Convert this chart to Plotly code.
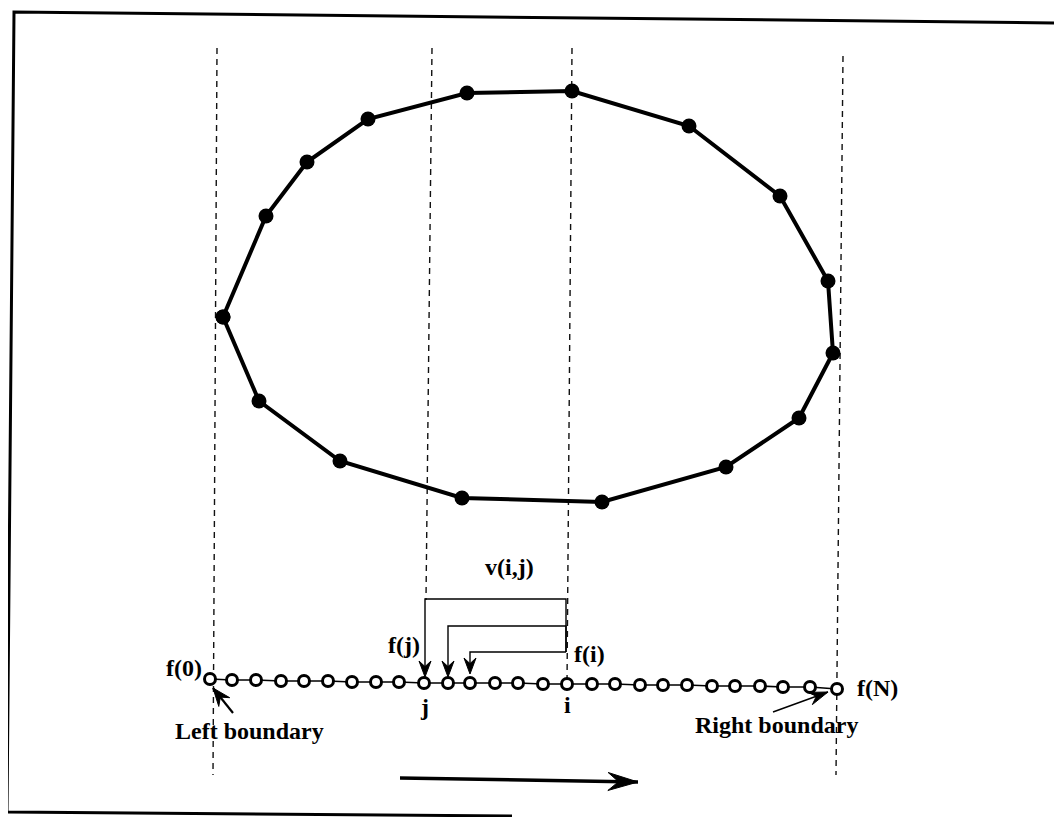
import math
import plotly.graph_objects as go

# ---------------- data (pixel-space diagram coordinates) ----------------
# closed contour vertices
contour_x = [223, 266, 307, 368, 467, 572, 689, 780, 828, 833, 799, 726, 602, 462, 340, 259]
contour_y = [317, 216, 162, 119, 93, 91, 126, 196, 281, 353, 418, 467, 502, 498, 461, 401]

# sample points f(0)..f(N) along the baseline
sample_x = [210, 232, 256, 281, 304, 328, 352, 376, 399, 424, 448, 470, 495, 518,
            543, 567, 592, 615, 640, 663, 687, 712, 735, 760, 783, 810, 837]
sample_y = [679, 680, 680, 681, 681, 681, 682, 682, 682, 683, 683, 683, 683, 683,
            684, 684, 684, 684, 685, 685, 685, 686, 686, 686, 687, 687, 689]

# dashed vertical guides (top -> bottom)
guide_x0 = [217, 432, 572, 843]
guide_y0 = [48, 48, 48, 56]
guide_x1 = [213, 426, 567, 836]
guide_y1 = [775, 600, 684, 775]

# v(i,j) brackets: left x, top y, arrow tip y ; common right x
bracket_left = [425, 448, 470]
bracket_top = [599, 626, 652]
bracket_tip = [677, 677, 674]
bracket_right = 566

# labels
label_text = ["v(i,j)", "f(j)", "f(i)", "f(0)", "f(N)", "j", "i", "Left boundary", "Right boundary"]
label_x = [509, 422, 572, 204, 855, 424, 567, 173, 693]
label_y = [567, 645, 654, 668, 688, 707, 705, 731, 725]
label_anchor = ["center", "right", "left", "right", "left", "center", "center", "left", "left"]

# free arrows: tail -> tip, line width, head length, head width
arrow_tail = [(233, 713), (773, 712), (400, 778)]
arrow_tip = [(213, 688), (828, 692), (638, 782)]
arrow_width = [2.2, 1.6, 3.5]
arrow_head = [(18, 14), (19, 13), (30, 18)]

# frame of the scanned figure
frame_x = [1062, 14, 7, 512]
frame_y = [23, 12, 812, 816]
frame_right_x = [1061, 1061]
frame_right_y = [742, 817]

# ---------------- figure ----------------
fig = go.Figure()


def line(xs, ys, width=1.5, color="black", dash=None):
    fig.add_trace(go.Scatter(x=xs, y=ys, mode="lines",
                             line=dict(color=color, width=width, dash=dash),
                             hoverinfo="skip", showlegend=False))


def head(tip, tail, length, width, notch=0.35):
    dx, dy = tip[0] - tail[0], tip[1] - tail[1]
    d = math.hypot(dx, dy)
    ux, uy = dx / d, dy / d
    nx, ny = -uy, ux
    bx, by = tip[0] - ux * length, tip[1] - uy * length
    mx, my = tip[0] - ux * length * (1 - notch), tip[1] - uy * length * (1 - notch)
    xs = [tip[0], bx + nx * width / 2, mx, bx - nx * width / 2, tip[0]]
    ys = [tip[1], by + ny * width / 2, my, by - ny * width / 2, tip[1]]
    fig.add_trace(go.Scatter(x=xs, y=ys, mode="lines", fill="toself",
                             fillcolor="black", line=dict(color="black", width=1),
                             hoverinfo="skip", showlegend=False))


# frame
line(frame_x, frame_y, width=3)
line(frame_right_x, frame_right_y, width=1.5, color="#777777")

# dashed guides
for x0, y0, x1, y1 in zip(guide_x0, guide_y0, guide_x1, guide_y1):
    line([x0, x1], [y0, y1], width=1.4, color="#111111", dash="6px,5px")

# contour polygon
fig.add_trace(go.Scatter(x=contour_x + contour_x[:1], y=contour_y + contour_y[:1],
                         mode="lines+markers",
                         line=dict(color="black", width=4),
                         marker=dict(color="black", size=15),
                         hoverinfo="skip", showlegend=False))

# baseline + samples
line(sample_x, sample_y, width=1.6)
fig.add_trace(go.Scatter(x=sample_x, y=sample_y, mode="markers",
                         marker=dict(color="white", size=11, line=dict(color="black", width=3)),
                         hoverinfo="skip", showlegend=False))

# brackets
for lx, ty, tip in zip(bracket_left, bracket_top, bracket_tip):
    line([lx, lx, bracket_right, bracket_right], [tip - 8, ty, ty, bracket_top[-1]], width=1.4)
    head((lx, tip), (lx, ty), 16, 12)

# free arrows
for tail, tip, w, (hl, hw) in zip(arrow_tail, arrow_tip, arrow_width, arrow_head):
    line([tail[0], tip[0]], [tail[1], tip[1]], width=w)
    head(tip, tail, hl, hw)

# labels
for t, x, y, a in zip(label_text, label_x, label_y, label_anchor):
    fig.add_annotation(x=x, y=y, text="<b>" + t + "</b>", showarrow=False,
                       xanchor=a, yanchor="middle",
                       font=dict(family="Liberation Serif", size=24, color="black"))

# the page body has an 8px margin: size the figure to fit and offset the ranges
fig.update_layout(
    width=1054, height=809,
    margin=dict(l=0, r=0, t=0, b=0),
    paper_bgcolor="white", plot_bgcolor="white",
    xaxis=dict(range=[8, 1062], visible=False, fixedrange=True),
    yaxis=dict(range=[817, 8], visible=False, fixedrange=True),
)

fig.write_html("out.html")
